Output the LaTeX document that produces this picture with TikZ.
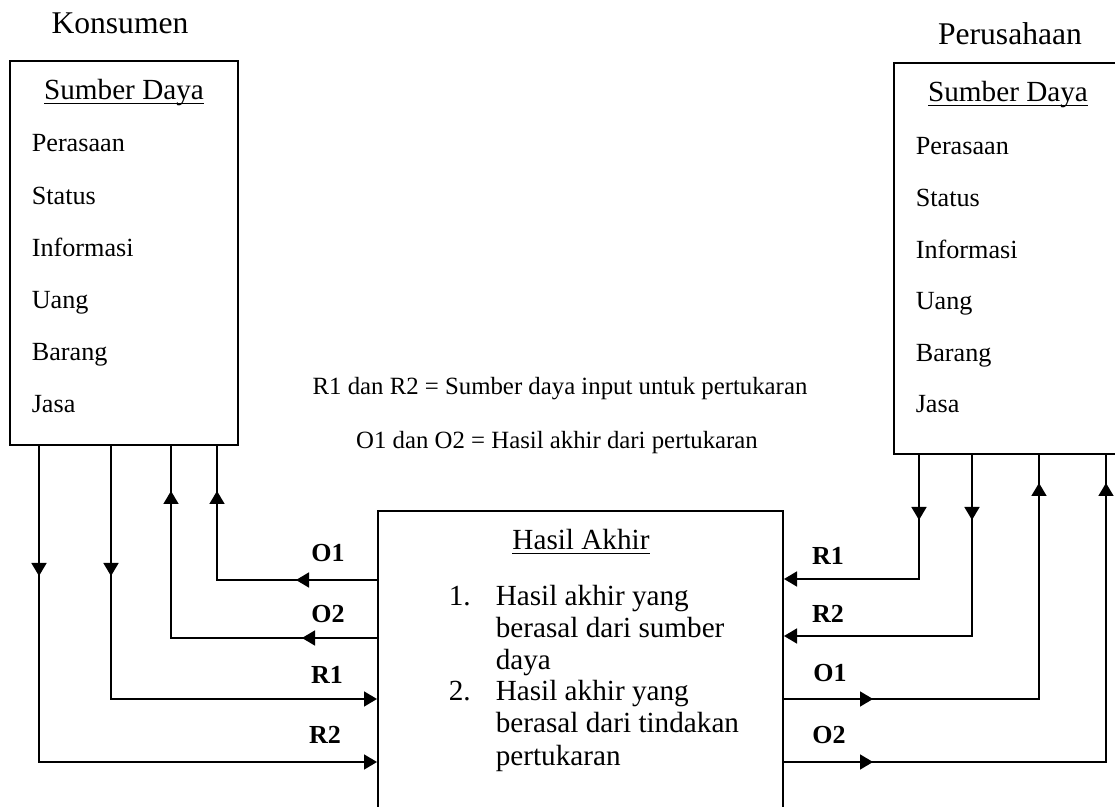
\documentclass[tikz,border=0pt]{standalone}
\usepackage{fontspec}
\setmainfont{Liberation Serif}
\usetikzlibrary{arrows.meta, calc, decorations.markings}
\newcommand{\garis}[1]{\leavevmode\setbox0\hbox{#1}\rlap{\rule[-2pt]{\wd0}{0.7pt}}\box0}

\begin{document}
\begin{tikzpicture}[x=0.5pt, y=-0.5pt, line width=0.8pt,
  kotak/.style={draw, line width=1pt, inner sep=0pt},
  judul/.style={inner sep=0pt, anchor=base, font=\fontsize{15.8}{18}\selectfont},
  kepala/.style={inner sep=0pt, anchor=base, font=\fontsize{14.6}{17}\selectfont},
  isi/.style={inner sep=0pt, anchor=base west, font=\fontsize{13.1}{15}\selectfont},
  daftar/.style={inner sep=0pt, anchor=base west, font=\fontsize{14.6}{17}\selectfont},
  ket/.style={inner sep=0pt, anchor=base, font=\fontsize{12.4}{15}\selectfont},
  kode/.style={inner sep=0pt, anchor=base, font=\fontsize{13}{15}\selectfont\bfseries},
  ujung/.style={-{Triangle[width=7.5pt, length=6.5pt]}},
  panah/.style={postaction={decorate, decoration={markings,
    mark=at position #1 with {\arrow{Triangle[width=7.5pt, length=6.5pt]}}}}}]
  \useasboundingbox (0,0) rectangle (1115,807);

  % Konsumen
  \node[judul] (konsumen) at (120,34) {Konsumen};
  \node[kotak, minimum width=114pt, minimum height=192pt] (kons) at (124,253) {};
  \node[kepala] (sdk) at (124,100) {\garis{Sumber Daya}};
  \foreach \isi [count=\i from 0] in {Perasaan, Status, Informasi, Uang, Barang, Jasa}
    \node[isi] (k\i) at (31,{152+52.2*\i}) {\isi};

  % Perusahaan
  \node[judul] (perusahaan) at (1010,45) {Perusahaan};
  \node[kotak, minimum width=115pt, minimum height=195.5pt] (prs) at (1009,258.5) {};
  \node[kepala] (sdp) at (1008,102) {\garis{Sumber Daya}};
  \foreach \isi [count=\i from 0] in {Perasaan, Status, Informasi, Uang, Barang, Jasa}
    \node[isi] (p\i) at (915,{155+51.6*\i}) {\isi};

  % Keterangan
  \node[ket] (ketR) at (560,395) {R1 dan R2 = Sumber daya input untuk pertukaran};
  \node[ket] (ketO) at (557,449) {O1 dan O2 = Hasil akhir dari pertukaran};

  % Hasil Akhir
  \node[kotak, minimum width=202.5pt, minimum height=164.5pt] (hasil) at (580.5,675.5) {};
  \node[kepala] (hasilJudul) at (581,550) {\garis{Hasil Akhir}};
  \node[daftar] (n1) at (448,606) {1.};
  \node[daftar] (h1) at (495,606) {Hasil akhir yang};
  \node[daftar] (h2) at (495,638) {berasal dari sumber};
  \node[daftar] (h3) at (495,670) {daya};
  \node[daftar] (n2) at (448,701) {2.};
  \node[daftar] (h4) at (495,701) {Hasil akhir yang};
  \node[daftar] (h5) at (495,733) {berasal dari tindakan};
  \node[daftar] (h6) at (495,765) {pertukaran};

  % Titik pada tepi kotak
  \coordinate (kA) at ($(kons.south west)+(30,0)$);
  \coordinate (kB) at ($(kons.south west)+(102,0)$);
  \coordinate (kC) at ($(kons.south west)+(162,0)$);
  \coordinate (kD) at ($(kons.south west)+(208,0)$);
  \coordinate (pA) at ($(prs.south west)+(26,0)$);
  \coordinate (pB) at ($(prs.south west)+(79,0)$);
  \coordinate (pC) at ($(prs.south west)+(146,0)$);
  \coordinate (pD) at ($(prs.south west)+(213,0)$);
  \coordinate (hO1) at ($(hasil.north west)+(0,70)$);
  \coordinate (hO2) at ($(hasil.north west)+(0,128)$);
  \coordinate (hR1) at ($(hasil.north west)+(0,189)$);
  \coordinate (hR2) at ($(hasil.north west)+(0,252)$);
  \coordinate (qR1) at ($(hasil.north east)+(0,69)$);
  \coordinate (qR2) at ($(hasil.north east)+(0,126)$);
  \coordinate (qO1) at ($(hasil.north east)+(0,189)$);
  \coordinate (qO2) at ($(hasil.north east)+(0,252)$);

  % Arus kiri
  \draw[ujung, panah=65pt] (kA) |- (hR2);
  \draw[ujung, panah=65pt] (kB) |- (hR1);
  \draw[panah=37.5pt, panah=176.5pt] (hO2) -| (kC);
  \draw[panah=40.5pt, panah=124.5pt] (hO1) -| (kD);
  \node[kode] (lO1) at (328,562) {O1};
  \node[kode] (lO2) at (328,623) {O2};
  \node[kode] (lR1) at (327,683) {R1};
  \node[kode] (lR2) at (325,743) {R2};

  % Arus kanan
  \draw[ujung, panah=32.5pt] (pA) |- (qR1);
  \draw[ujung, panah=32.5pt] (pB) |- (qR2);
  \draw[panah=44.5pt, panah=235.5pt] (qO1) -| (pC);
  \draw[panah=44.5pt, panah=300.5pt] (qO2) -| (pD);
  \node[kode] (rR1) at (828,565) {R1};
  \node[kode] (rR2) at (828,623) {R2};
  \node[kode] (rO1) at (830,682) {O1};
  \node[kode] (rO2) at (829,743) {O2};
\end{tikzpicture}
\end{document}
